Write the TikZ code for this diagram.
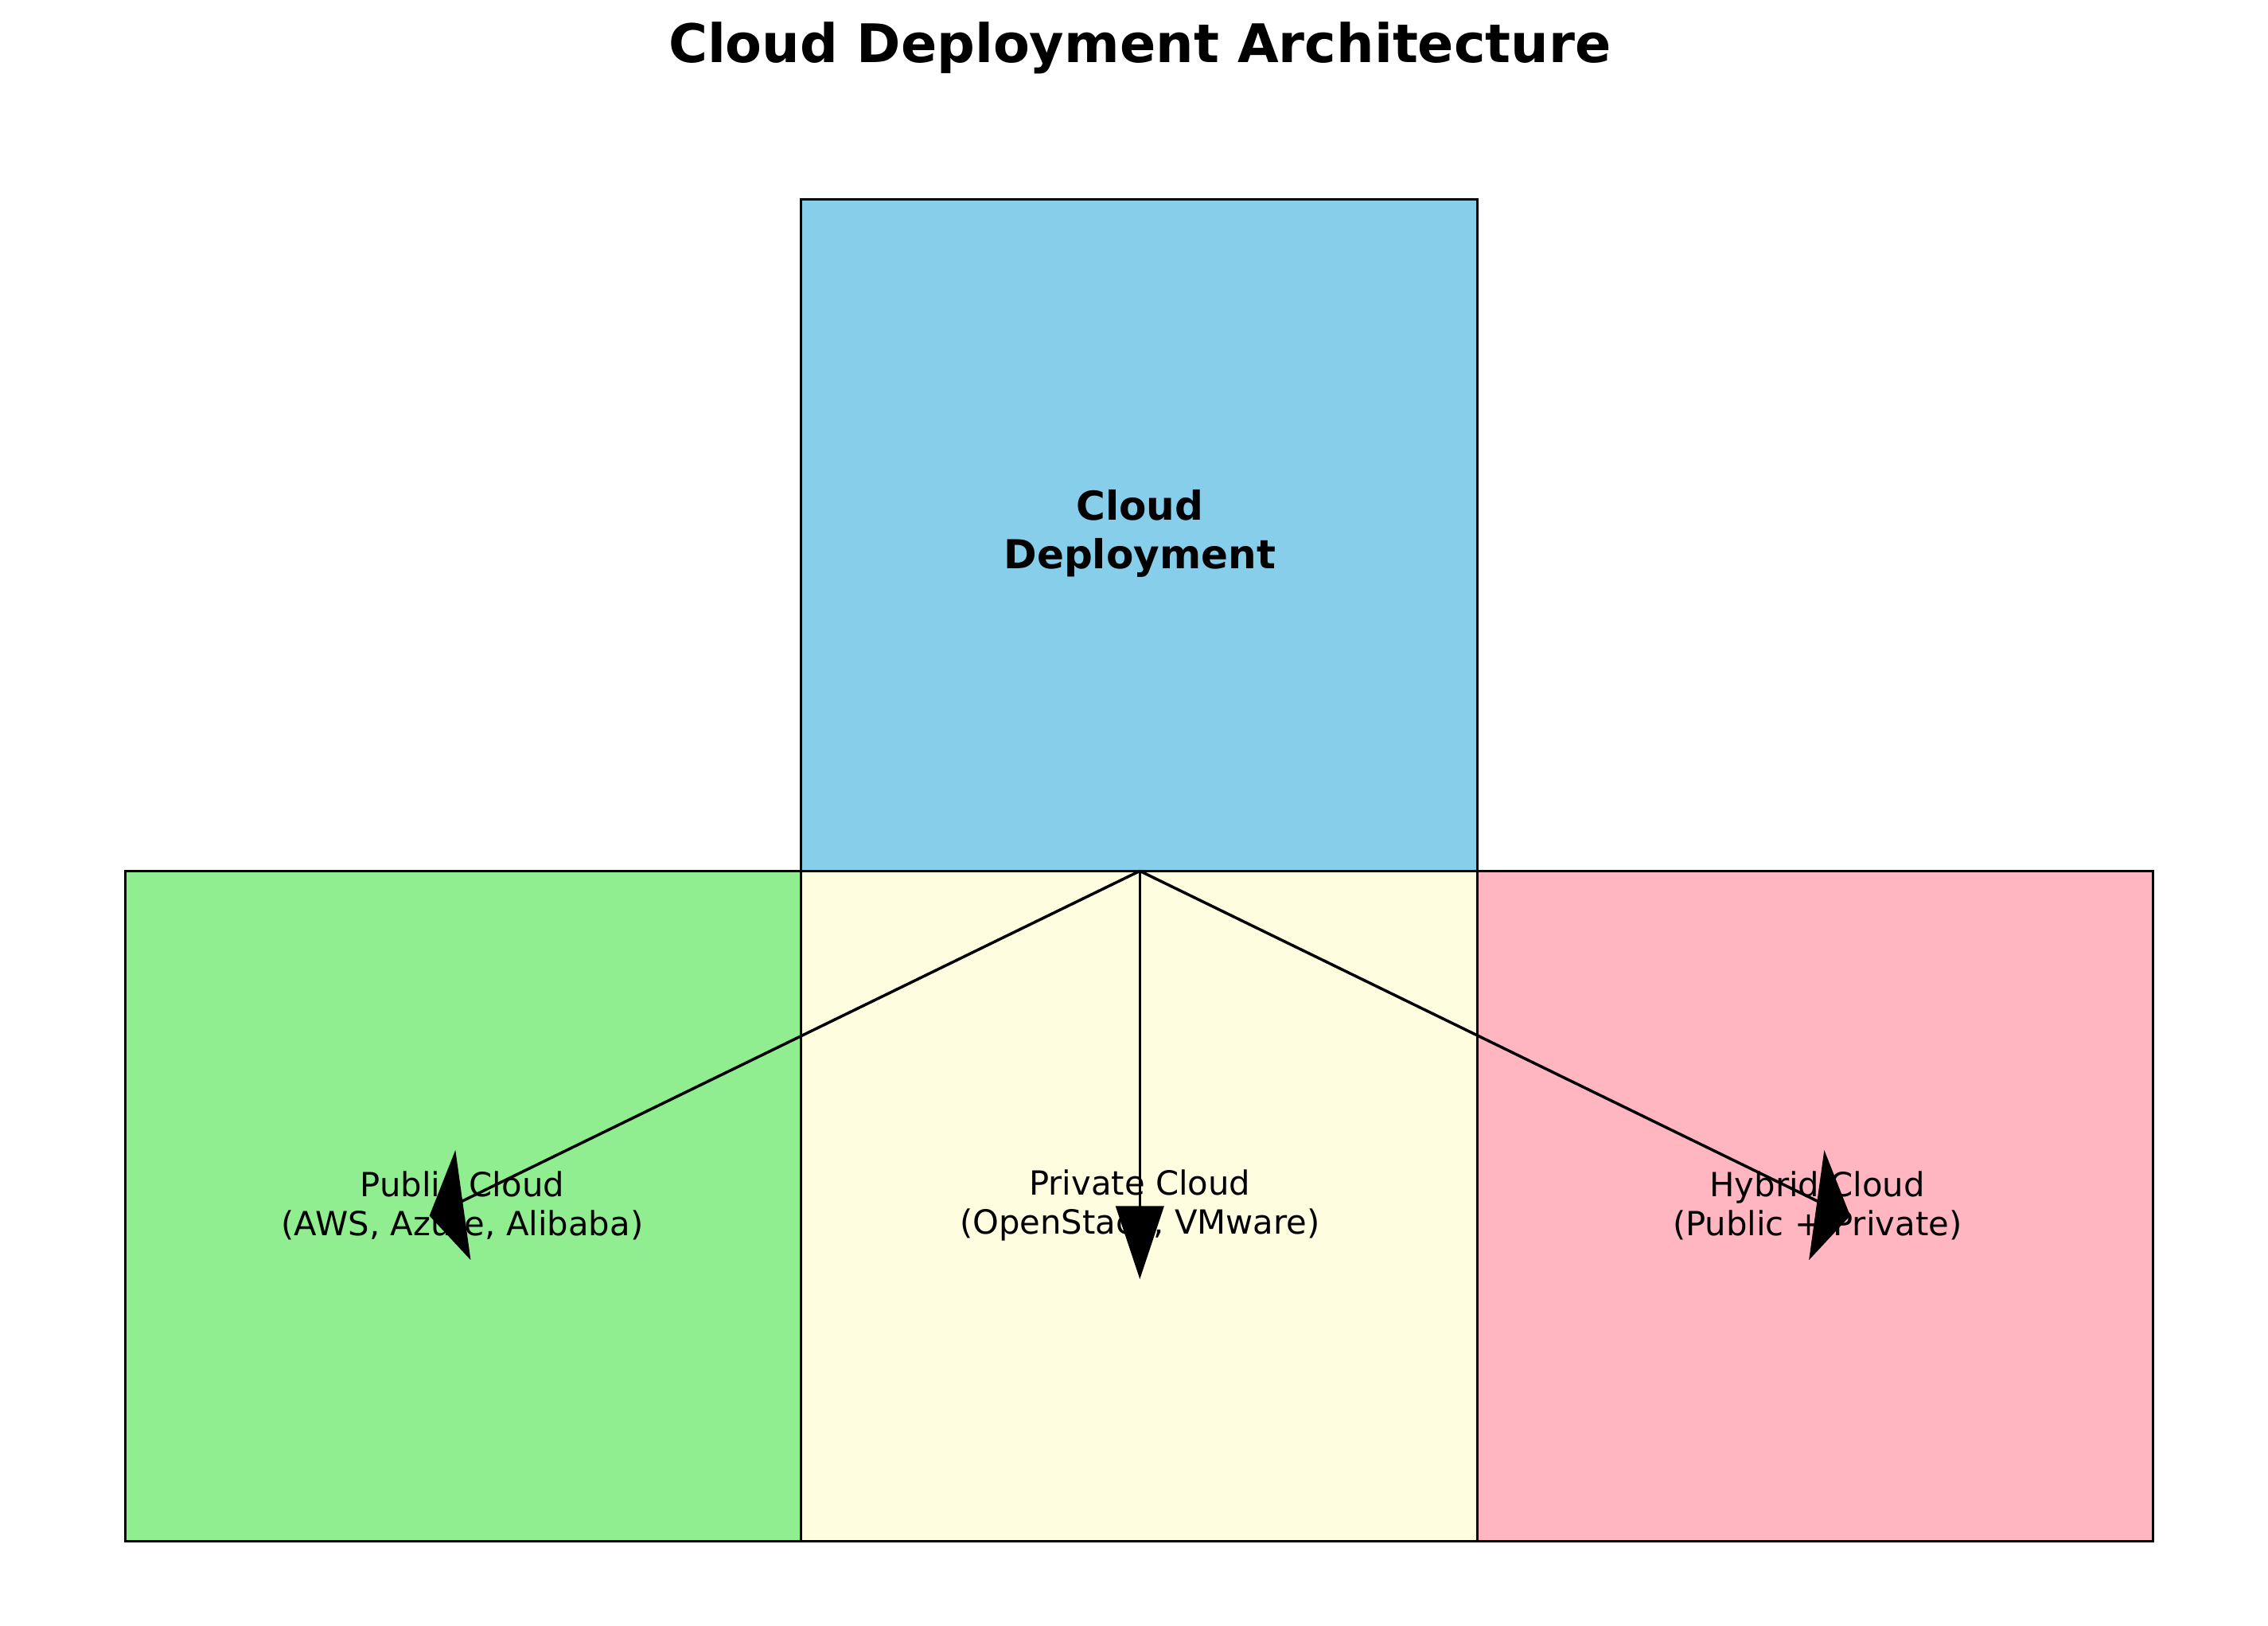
\documentclass[tikz,border=0pt]{standalone}
\usepackage{fontspec}
\setmainfont{DejaVu Sans}
\begin{document}
\begin{tikzpicture}[x=0.01cm,y=-0.01cm,
 box/.style={draw=black,line width=0.5pt},
 lbl/.style={font=\fontsize{6.5}{7.6}\selectfont,align=center},
 arr/.style={line width=0.55pt},
 head/.style={fill=black,draw=black,line width=0.3pt,line join=miter}]
\useasboundingbox (0,0) rectangle (1560,1118);
\fill[white] (0,0) rectangle (1560,1118);
\node[font=\bfseries\fontsize{10.4}{12}\selectfont] (title) at (784,33) {Cloud Deployment Architecture};
\filldraw[box,fill={rgb,255:red,135;green,206;blue,235}] (551,137) rectangle (1016,599);
\filldraw[box,fill={rgb,255:red,144;green,238;blue,144}] (86,599) rectangle (551,1060);
\filldraw[box,fill={rgb,255:red,255;green,253;blue,224}] (551,599) rectangle (1016,1060);
\filldraw[box,fill={rgb,255:red,255;green,182;blue,193}] (1016,599) rectangle (1481,1060);
\node[lbl,font=\bfseries\fontsize{7.8}{9.6}\selectfont] (top) at (784,367) {Cloud\\Deployment};
\node[lbl] (pub) at (318,829) {Public Cloud\\(AWS, Azure, Alibaba)};
\node[lbl] (priv) at (784,829) {Private Cloud\\(OpenStack, VMware)};
\node[lbl] (hyb) at (1250,829) {Hybrid Cloud\\(Public + Private)};
\coordinate (s) at (784,599);
\coordinate (bl) at (316,827);
\coordinate (bm) at (784,830);
\coordinate (br) at (1252,827);
\draw[arr] (s) -- (bl);
\draw[arr] (s) -- (bm);
\draw[arr] (s) -- (br);
\filldraw[head] (313,793) -- (323,865) -- (296,836) -- cycle;
\filldraw[head] (768,830) -- (800,830) -- (784,878) -- cycle;
\filldraw[head] (1255,793) -- (1245,865) -- (1272,836) -- cycle;
\end{tikzpicture}
\end{document}
